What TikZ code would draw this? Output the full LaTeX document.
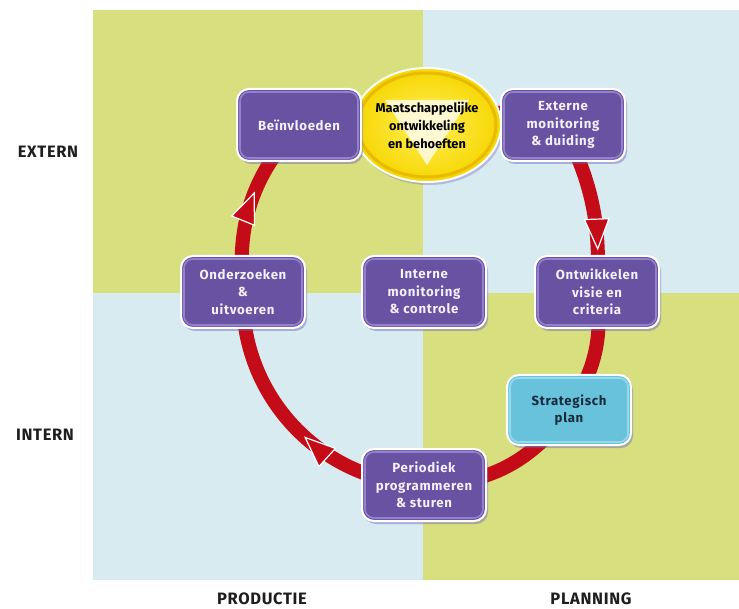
\documentclass[tikz,border=0pt]{standalone}
\usepackage{fontspec}
\setmainfont{Fira Sans}
\newfontfamily\boxfont[LetterSpace=5]{Fira Sans}
\newfontfamily\sidefont[LetterSpace=4]{Fira Sans}
\usepackage{tikz}
\usetikzlibrary{arrows.meta,shapes.geometric,shadows,decorations.markings}

\definecolor{quadgreen}{RGB}{215,223,126}
\definecolor{quadblue}{RGB}{216,235,241}
\definecolor{boxpurple}{RGB}{104,82,162}
\definecolor{rimc}{RGB}{150,128,205}
\definecolor{boxtext}{RGB}{244,240,252}
\definecolor{shadowc}{RGB}{110,100,190}
\definecolor{ringred}{RGB}{196,12,24}
\definecolor{planblue}{RGB}{104,194,220}
\definecolor{planrim}{RGB}{150,218,236}
\definecolor{plantext}{RGB}{22,42,58}
\definecolor{maatyellow}{RGB}{246,214,0}
\definecolor{maatlight}{RGB}{255,240,90}
\definecolor{maatrim}{RGB}{232,186,0}
\definecolor{sidetext}{RGB}{30,30,30}

\pgfdeclarelayer{quads}
\pgfdeclarelayer{ringlayer}
\pgfsetlayers{quads,ringlayer,main}

\begin{document}
\begin{tikzpicture}[x=1pt,y=-1pt,
  box/.style={rounded corners=12pt, fill=boxpurple, draw=white, line width=2pt,
    minimum width=124pt, minimum height=72pt, inner sep=2pt, align=center,
    text=boxtext, font=\boxfont\bfseries\fontsize{13.2}{17.5}\selectfont,
    drop shadow={fill=shadowc, opacity=0.45, shadow xshift=2pt, shadow yshift=-3pt},
    path picture={\draw[rimc, line width=1.6pt, rounded corners=9pt]
      ([shift={(3pt,-3pt)}]path picture bounding box.north west) rectangle
      ([shift={(-3pt,3pt)}]path picture bounding box.south east);}},
  planbox/.style={box, fill=planblue, text=plantext,
    path picture={\draw[planrim, line width=1.6pt, rounded corners=9pt]
      ([shift={(3pt,-3pt)}]path picture bounding box.north west) rectangle
      ([shift={(-3pt,3pt)}]path picture bounding box.south east);}},
  maatnode/.style={ellipse, minimum width=148pt, minimum height=114pt, inner sep=0pt,
    draw=white, line width=2pt, inner color=maatlight, outer color=maatyellow,
    align=center, text=black, font=\bfseries\fontsize{12.8}{18}\selectfont,
    drop shadow={fill=shadowc, opacity=0.35, shadow xshift=2pt, shadow yshift=-3pt},
    path picture={
      \fill[white, opacity=0.75] ([shift={(-42pt,25pt)}]path picture bounding box.center)
        -- ([shift={(42pt,25pt)}]path picture bounding box.center)
        -- ([shift={(0pt,-40pt)}]path picture bounding box.center) -- cycle;
      \draw[maatrim, line width=3pt] (path picture bounding box.center) ellipse (69pt and 52pt);}},
  ring/.style={draw=ringred, line width=14pt},
  arrowat/.style={postaction={decorate, decoration={markings,
    mark=at position #1 with {\arrow{Triangle[length=32pt, width=26pt, fill=ringred, color=white, line width=1.2pt]}}}}},
  side/.style={text=sidetext, inner sep=1pt, font=\sidefont\bfseries\fontsize{16.5}{20}\selectfont}]
\useasboundingbox (0,0) rectangle (739,609);
%
\node[maatnode] (maat) at (427,125) {Maatschappelijke\\ontwikkeling\\en behoeften};
\node[box] (bein) at (299,125) {Beïnvloeden};
\node[box] (extm) at (563,125) {Externe\\monitoring\\\& duiding};
\node[box] (onder) at (243,292) {Onderzoeken\\\&\\uitvoeren};
\node[box] (intm) at (424,292) {Interne\\monitoring\\\& controle};
\node[box] (ontw) at (597,292) {Ontwikkelen\\visie en\\criteria};
\node[planbox, minimum height=70pt] (strat) at (569,410) {Strategisch\\plan};
\node[box] (period) at (424,485) {Periodiek\\programmeren\\\& sturen};
%
\node[side] (extern) at (48,152) {EXTERN};
\node[side] (intern) at (45,435) {INTERN};
\node[side] (prod) at (262,599) {PRODUCTIE};
\node[side] (plan) at (591,599) {PLANNING};
%
\begin{pgfonlayer}{quads}
\fill[white] (0,0) rectangle (739,609);
\fill[quadgreen] (93,10) rectangle (423,293);
\fill[quadblue] (423,10) rectangle (739,293);
\fill[quadblue] (93,293) rectangle (423,580);
\fill[quadgreen] (423,293) rectangle (739,580);
\end{pgfonlayer}
%
\begin{pgfonlayer}{ringlayer}
\draw[ring] (maat.center) to[bend left=18] (extm.center);
\draw[ring, arrowat=0.76] (extm.center) to[bend left=15] (ontw.center);
\draw[ring] (ontw.center) to[bend left=20] (strat.center);
\draw[ring] (strat.center) to[bend left=27] (period.center);
\draw[ring, arrowat=0.45] (period.center) to[bend left=45] (onder.center);
\draw[ring, arrowat=0.56] (onder.center) to[bend left=24] (bein.center);
\draw[ring] (bein.center) to[bend left=18] (maat.center);
\end{pgfonlayer}
\end{tikzpicture}
\end{document}
